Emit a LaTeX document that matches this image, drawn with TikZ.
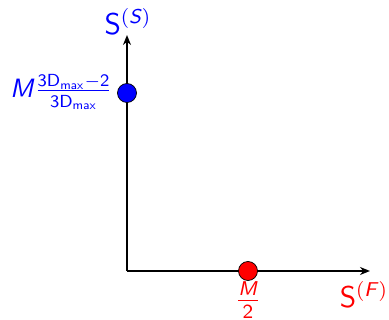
\documentclass[tikz,border=0pt]{standalone}
\usepackage{amsmath}
\usetikzlibrary{arrows.meta}
\renewcommand\familydefault{\sfdefault}
\newcommand{\sit}[1]{\textsf{\textit{#1}}}
\begin{document}
\begin{tikzpicture}[x=0.4pt,y=-0.4pt,
  axis/.style={line width=0.8pt,-{Stealth[length=4pt,width=3.2pt]}},
  dot/.style={circle,draw=black,line width=0.3pt,minimum size=7.6pt,inner sep=0pt},
  lab/.style={font=\large},
  labs/.style={font=\fontsize{10.6}{13}\selectfont}]
\useasboundingbox (0,0) rectangle (389,320);
\coordinate (O) at (127,271);
\coordinate (ytip) at (127,35);
\coordinate (xtip) at (370,271);
\draw[axis] (O) -- (ytip);
\draw[axis] (O) -- (xtip);
\node[dot,fill=blue] (bs) at (127,93) {};
\node[dot,fill=red] (rf) at (248,271) {};
\node[lab,text=blue] (ls) at (128,22) {S$^{(\sit{S})}$};
\node[labs,text=blue,anchor=east,inner sep=0pt] (lm) at (113,92) {$\sit{M}\frac{\mathsf{3D}_{\mathsf{max}}-\mathsf{2}}{\mathsf{3D}_{\mathsf{max}}}$};
\node[lab,text=red] (lh) at (248,300) {$\frac{\sit{M}}{\mathsf{2}}$};
\node[lab,text=red] (lf) at (364,295) {S$^{(\sit{F})}$};
\end{tikzpicture}
\end{document}
